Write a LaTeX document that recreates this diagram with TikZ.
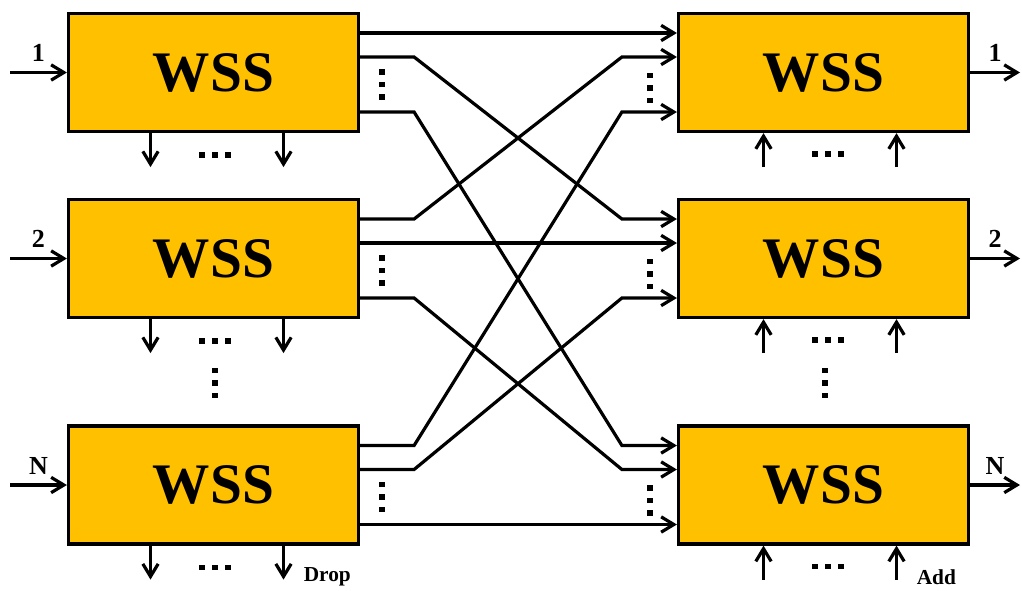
\documentclass[tikz,border=0pt]{standalone}
\usepackage{fontspec}
\setmainfont{Liberation Serif}
\usetikzlibrary{calc,arrows.meta}

\definecolor{wssfill}{HTML}{FFC000}
\tikzset{
  wss/.style={draw,line width=2.4pt,fill=wssfill,minimum width=217.5pt,minimum height=88.5pt,font=\fontsize{43}{43}\selectfont\bfseries},
  link/.style={line width=2.4pt,-{Straight Barb[length=9.5pt,width=11.5pt]}},
  lbl/.style={font=\fontsize{19.5}{19.5}\selectfont\bfseries,inner sep=1pt},
  tag/.style={font=\fontsize{16}{16}\selectfont\bfseries,inner sep=0pt},
}
% three small squares, in a column or in a row
\newcommand{\dotcol}[1]{\foreach \k in {-1,0,1} \fill[shift={#1}] (-2.7,12.5*\k-2.7) rectangle ++(5.4,5.4);}
\newcommand{\dotrow}[1]{\foreach \k in {-1,0,1} \fill[shift={#1}] (13*\k-2.7,-2.7) rectangle ++(5.4,5.4);}

\begin{document}
\begin{tikzpicture}[x=0.75pt,y=-0.75pt]
\useasboundingbox (0,0) rectangle (1022,590);
\node[wss] (L1) at (213.5,72.5) {WSS};
\node[wss] (L2) at (213.5,258.5) {WSS};
\node[wss] (L3) at (213.5,485) {WSS};
\node[wss] (R1) at (823.5,72.5) {WSS};
\node[wss] (R2) at (823.5,258.5) {WSS};
\node[wss] (R3) at (823.5,485) {WSS};

% ports
\foreach \b in {L1,L2,L3} {
  \coordinate (\b-a) at ($(\b.east)+(0,-39.5)$);
  \coordinate (\b-b) at ($(\b.east)+(0,-15.5)$);
  \coordinate (\b-c) at ($(\b.east)+(0,39.5)$);
  \dotcol{($(\b.east)+(22,12)$)}
  \dotrow{($(\b.south)+(1.5,22)$)}
  \draw[link] ($(\b.south)+(-63,0)$) -- ++(0,34);
  \draw[link] ($(\b.south)+(70,0)$) -- ++(0,34);
}
\foreach \b in {R1,R2,R3} {
  \coordinate (\b-a) at ($(\b.west)+(0,-39.5)$);
  \coordinate (\b-b) at ($(\b.west)+(0,-15.5)$);
  \coordinate (\b-c) at ($(\b.west)+(0,39.5)$);
  \dotcol{($(\b.west)+(-27,15.5)$)}
  \dotrow{($(\b.south)+(4.5,21)$)}
  \draw[link] ($(\b.south)+(-60,34)$) -- ++(0,-34);
  \draw[link] ($(\b.south)+(73,34)$) -- ++(0,-34);
}
\dotcol{(215,383)}
\dotcol{(825,383)}

% links between the stages
\draw[link] (L1-a) -- (R1-a);
\draw[link] (L2-b) -- (R2-b);
\draw[link] (L3-c) -- (R3-c);
\foreach \s/\t in {L1-b/R2-a,L1-c/R3-a,L2-a/R1-b,L2-c/R3-b,L3-a/R1-c,L3-b/R2-c}
  \draw[link] (\s) -- ++(54,0) -- ($(\t)+(-55,0)$) -- (\t);

% inputs and outputs
\coordinate (in1) at (10,72.5);
\coordinate (in2) at (10,258.5);
\coordinate (in3) at (10,485);
\coordinate (out1) at (1020,72.5);
\coordinate (out2) at (1020,258.5);
\coordinate (out3) at (1020,485);
\draw[link] (in1) -- (L1.west) node[lbl,midway,above=6pt] {1};
\draw[link] (in2) -- (L2.west) node[lbl,midway,above=6pt] {2};
\draw[link] (in3) -- (L3.west) node[lbl,midway,above=6pt] {N};
\draw[link] (R1.east) -- (out1) node[lbl,midway,above=6pt] {1};
\draw[link] (R2.east) -- (out2) node[lbl,midway,above=6pt] {2};
\draw[link] (R3.east) -- (out3) node[lbl,midway,above=6pt] {N};

\node[tag,anchor=base west] (drop) at ($(L3.south)+(90,36)$) {Drop};
\node[tag,anchor=base west] (add) at ($(R3.south)+(93,39)$) {Add};
\end{tikzpicture}
\end{document}
